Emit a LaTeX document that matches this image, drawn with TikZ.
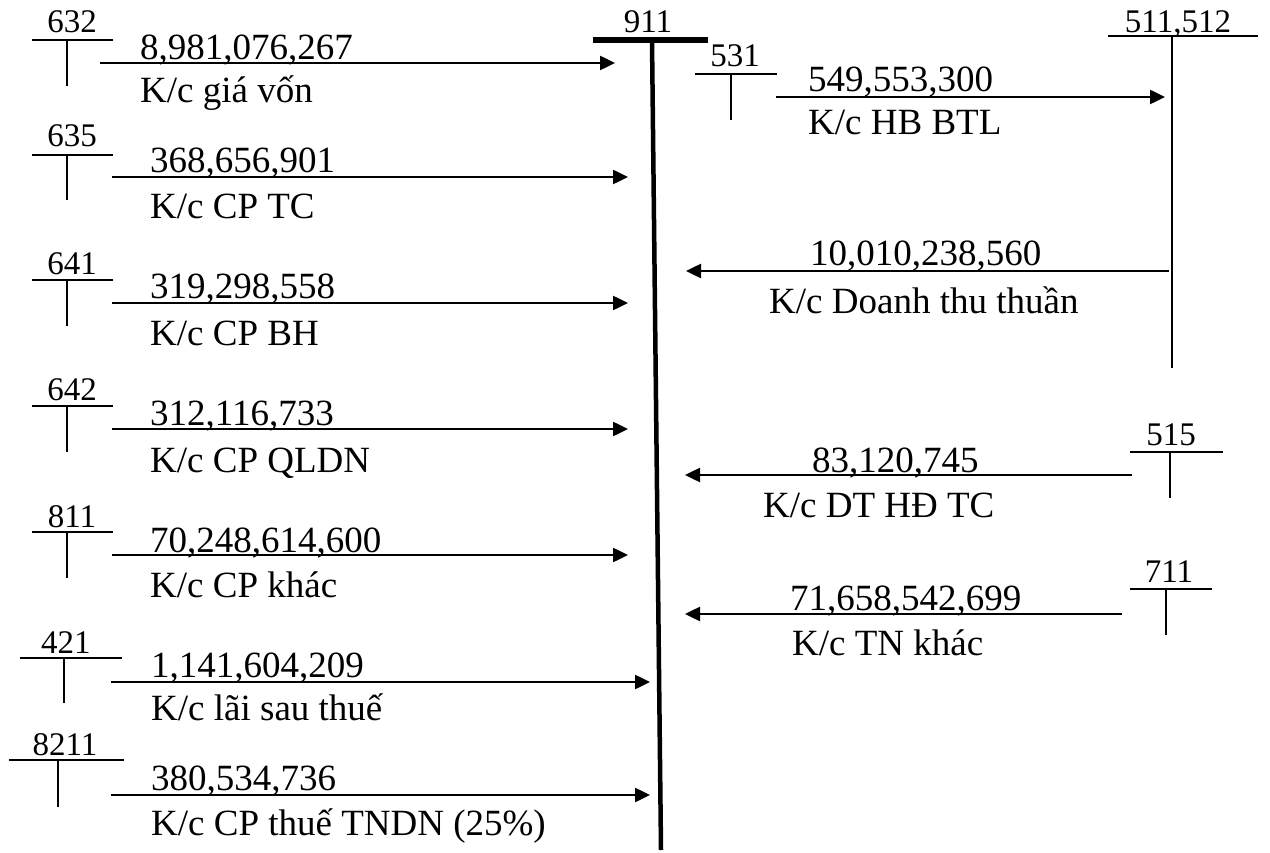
\documentclass[tikz,border=0pt]{standalone}
\usepackage{fontspec}
\setmainfont{Liberation Serif}
\usetikzlibrary{arrows.meta}
\begin{document}
\begin{tikzpicture}[x=1pt,y=-1pt,
  amt/.style={inner sep=0pt, anchor=base west, font=\fontsize{37}{40}\selectfont},
  acc/.style={inner sep=0pt, anchor=base, font=\fontsize{33}{36}\selectfont},
  tline/.style={line width=1.6pt},
  flow/.style={line width=2.5pt, -{Triangle[length=15pt,width=14pt]}},
  bigacc/.style={line width=6pt},
  bigline/.style={line width=4.5pt}]
\useasboundingbox (0,0) rectangle (1270,853);

% ===== 911 =====
\node[acc] (n911) at (648,33) {911};
\coordinate (b911L) at (593,40); \coordinate (b911R) at (708,40);
\draw[bigacc] (b911L) -- (b911R);
\coordinate (m911T) at (652,40); \coordinate (m911B) at (661,850);
\draw[bigline] (m911T) -- (m911B);

% ===== 632 =====
\node[acc] (n632) at (72,33) {632};
\coordinate (h632a) at (32,40); \coordinate (h632b) at (113,40);
\coordinate (v632a) at (67,40); \coordinate (v632b) at (67,86);
\draw[tline] (h632a) -- (h632b); \draw[tline] (v632a) -- (v632b);
\coordinate (s632) at (100,63); \coordinate (e632) at (615,63);
\draw[flow] (s632) -- (e632);
\node[amt] (a632) at (140,60) {8,981,076,267};
\node[amt] (t632) at (140,103) {K/c giá vốn};

% ===== 635 =====
\node[acc] (n635) at (72,147) {635};
\coordinate (h635a) at (32,155); \coordinate (h635b) at (113,155);
\coordinate (v635a) at (67,155); \coordinate (v635b) at (67,200);
\draw[tline] (h635a) -- (h635b); \draw[tline] (v635a) -- (v635b);
\coordinate (s635) at (112,177); \coordinate (e635) at (628,177);
\draw[flow] (s635) -- (e635);
\node[amt] (a635) at (150,173) {368,656,901};
\node[amt] (t635) at (150,219) {K/c CP TC};

% ===== 641 =====
\node[acc] (n641) at (72,275) {641};
\coordinate (h641a) at (32,280); \coordinate (h641b) at (113,280);
\coordinate (v641a) at (67,280); \coordinate (v641b) at (67,326);
\draw[tline] (h641a) -- (h641b); \draw[tline] (v641a) -- (v641b);
\coordinate (s641) at (112,303); \coordinate (e641) at (628,303);
\draw[flow] (s641) -- (e641);
\node[amt] (a641) at (150,299) {319,298,558};
\node[amt] (t641) at (150,345) {K/c CP BH};

% ===== 642 =====
\node[acc] (n642) at (72,400) {642};
\coordinate (h642a) at (32,406); \coordinate (h642b) at (113,406);
\coordinate (v642a) at (67,406); \coordinate (v642b) at (67,452);
\draw[tline] (h642a) -- (h642b); \draw[tline] (v642a) -- (v642b);
\coordinate (s642) at (112,429); \coordinate (e642) at (628,429);
\draw[flow] (s642) -- (e642);
\node[amt] (a642) at (150,425) {312,116,733};
\node[amt] (t642) at (150,472) {K/c CP QLDN};

% ===== 811 =====
\node[acc] (n811) at (72,527) {811};
\coordinate (h811a) at (32,532); \coordinate (h811b) at (113,532);
\coordinate (v811a) at (67,532); \coordinate (v811b) at (67,578);
\draw[tline] (h811a) -- (h811b); \draw[tline] (v811a) -- (v811b);
\coordinate (s811) at (112,555); \coordinate (e811) at (628,555);
\draw[flow] (s811) -- (e811);
\node[amt] (a811) at (150,552) {70,248,614,600};
\node[amt] (t811) at (150,597) {K/c CP khác};

% ===== 421 =====
\node[acc] (n421) at (66,653) {421};
\coordinate (h421a) at (20,658); \coordinate (h421b) at (122,658);
\coordinate (v421a) at (64,658); \coordinate (v421b) at (64,703);
\draw[tline] (h421a) -- (h421b); \draw[tline] (v421a) -- (v421b);
\coordinate (s421) at (111,682); \coordinate (e421) at (650,682);
\draw[flow] (s421) -- (e421);
\node[amt] (a421) at (151,677) {1,141,604,209};
\node[amt] (t421) at (151,720) {K/c lãi sau thuế};

% ===== 8211 =====
\node[acc] (n8211) at (65,755) {8211};
\coordinate (h8211a) at (9,760); \coordinate (h8211b) at (124,760);
\coordinate (v8211a) at (58,760); \coordinate (v8211b) at (58,807);
\draw[tline] (h8211a) -- (h8211b); \draw[tline] (v8211a) -- (v8211b);
\coordinate (s8211) at (111,795); \coordinate (e8211) at (650,795);
\draw[flow] (s8211) -- (e8211);
\node[amt] (a8211) at (151,790) {380,534,736};
\node[amt] (t8211) at (151,835) {K/c CP thuế TNDN (25\%)};

% ===== 511,512 =====
\node[acc] (n511) at (1178,33) {511,512};
\coordinate (h511a) at (1108,36); \coordinate (h511b) at (1258,36);
\coordinate (v511a) at (1172,36); \coordinate (v511b) at (1172,368);
\draw[tline] (h511a) -- (h511b); \draw[tline] (v511a) -- (v511b);

% ===== 531 =====
\node[acc] (n531) at (735,67) {531};
\coordinate (h531a) at (695,74); \coordinate (h531b) at (777,74);
\coordinate (v531a) at (731,74); \coordinate (v531b) at (731,120);
\draw[tline] (h531a) -- (h531b); \draw[tline] (v531a) -- (v531b);
\coordinate (s531) at (776,97); \coordinate (e531) at (1165,97);
\draw[flow] (s531) -- (e531);
\node[amt] (a531) at (808,92) {549,553,300};
\node[amt] (t531) at (808,135) {K/c HB BTL};

% ===== 511 -> 911 =====
\coordinate (s511) at (1169,271); \coordinate (e511) at (686,271);
\draw[flow] (s511) -- (e511);
\node[amt] (a511) at (810,266) {10,010,238,560};
\node[amt] (t511) at (769,313) {K/c Doanh thu thuần};

% ===== 515 =====
\node[acc] (n515) at (1171,445) {515};
\coordinate (h515a) at (1130,452); \coordinate (h515b) at (1223,452);
\coordinate (v515a) at (1170,452); \coordinate (v515b) at (1170,498);
\draw[tline] (h515a) -- (h515b); \draw[tline] (v515a) -- (v515b);
\coordinate (s515) at (1132,475); \coordinate (e515) at (685,475);
\draw[flow] (s515) -- (e515);
\node[amt] (a515) at (812,472) {83,120,745};
\node[amt] (t515) at (763,517) {K/c DT HĐ TC};

% ===== 711 =====
\node[acc] (n711) at (1169,582) {711};
\coordinate (h711a) at (1130,589); \coordinate (h711b) at (1212,589);
\coordinate (v711a) at (1166,589); \coordinate (v711b) at (1166,635);
\draw[tline] (h711a) -- (h711b); \draw[tline] (v711a) -- (v711b);
\coordinate (s711) at (1122,614); \coordinate (e711) at (685,614);
\draw[flow] (s711) -- (e711);
\node[amt] (a711) at (790,610) {71,658,542,699};
\node[amt] (t711) at (792,655) {K/c TN khác};
\end{tikzpicture}
\end{document}
